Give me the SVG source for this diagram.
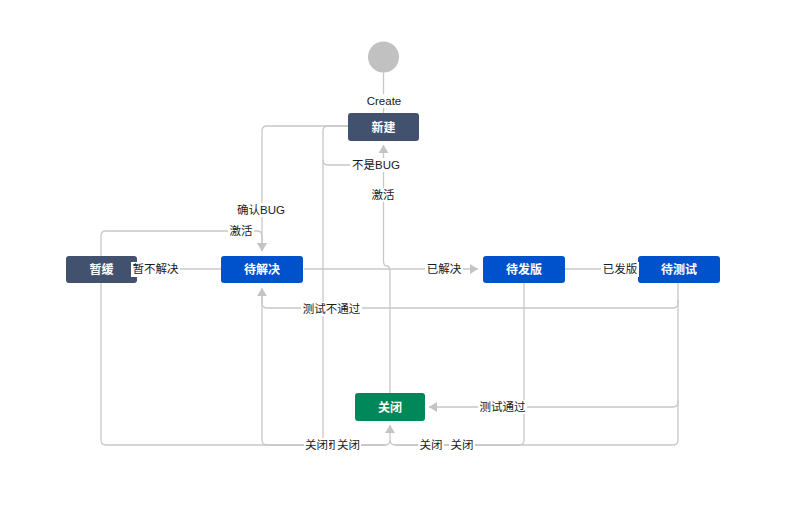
<svg xmlns="http://www.w3.org/2000/svg" width="800" height="508" viewBox="0 0 800 508">
<defs>
<marker id="arr" viewBox="0 0 8 10" refX="8" refY="5" markerWidth="8" markerHeight="10" markerUnits="userSpaceOnUse" orient="auto"><path d="M0,0 L8,5 L0,10 z" fill="#c4c4c4"/></marker>
<clipPath id="frag"><rect x="329" y="436" width="7" height="18"/></clipPath>
<style>
.ln{fill:none;stroke:#c8c8c8;stroke-width:1.3}
.ar{marker-end:url(#arr)}
.nd{stroke:none}
.nt{font-family:"Liberation Sans","Noto Sans CJK SC",sans-serif;font-size:12px;font-weight:bold;fill:#ffffff;text-anchor:middle}
.lb{font-family:"Liberation Sans","Noto Sans CJK SC",sans-serif;font-size:11.5px;fill:#1a1a1a;text-anchor:middle}
.bg{fill:#ffffff}
</style>
</defs>
<rect width="800" height="508" fill="#ffffff"/>

<g id="start"><circle cx="383.5" cy="57" r="15.5" fill="#c1c1c1"/></g>

<g id="connectors">
<path class="ln" d="M383.5 72 V113"/>
<path class="ln ar" d="M348 126 H267 Q262 126 262 131 V251"/>
<path class="ln" d="M348 126 H328 Q323 126 323 131 V160 Q323 165 328 165 H360"/>
<path class="ln" d="M323 160 V440 Q323 445 328 445 H385"/>
<path class="ln ar" d="M101 256 V236 Q101 231 106 231 H257 Q262 231 262 236 V251"/>
<path class="ln" d="M137 269 H221"/>
<path class="ln ar" d="M304 269 H478"/>
<path class="ln" d="M565 269 H637"/>
<path class="ln ar" d="M678 283 V303 Q678 308 673 308 H267 Q262 308 262 303 V288"/>
<path class="ln" d="M262 295 V440 Q262 445 267 445 H385"/>
<path class="ln" d="M101 283 V440 Q101 445 106 445 H385"/>
<path class="ln ar" d="M678 300 V402 Q678 407 673 407 H429"/>
<path class="ln" d="M678 400 V440 Q678 445 673 445 H395 Q390 445 390 440"/>
<path class="ln" d="M524 283 V440 Q524 445 519 445 H395"/>
<path class="ln ar" d="M385 445 Q390 445 390 440 V425"/>
<path class="ln ar" d="M390 393 V271 Q390 266 386.5 266 Q383.5 266 383.5 261 V145"/>
</g>

<g id="node-xinjian"><rect class="nd" x="348" y="113" width="71" height="28" rx="3" fill="#42526e"/><text class="nt" x="383.5" y="131.5">新建</text></g>
<g id="node-zanhuan"><rect class="nd" x="66" y="256" width="71" height="27" rx="3" fill="#42526e"/><text class="nt" x="101.5" y="274">暂缓</text></g>
<g id="node-daijiejue"><rect class="nd" x="221" y="256" width="82" height="27" rx="3" fill="#0052cc"/><text class="nt" x="262" y="274">待解决</text></g>
<g id="node-daifaban"><rect class="nd" x="483" y="256" width="82" height="27" rx="3" fill="#0052cc"/><text class="nt" x="524" y="274">待发版</text></g>
<g id="node-daiceshi"><rect class="nd" x="638" y="256" width="82" height="27" rx="3" fill="#0052cc"/><text class="nt" x="679" y="274">待测试</text></g>
<g id="node-guanbi"><rect class="nd" x="355" y="393" width="70" height="28" rx="3" fill="#00875a"/><text class="nt" x="390" y="411.5">关闭</text></g>

<g id="labels">
<rect class="bg" x="364" y="94" width="40" height="14"/><text class="lb" x="384" y="105">Create</text>
<rect class="bg" x="235" y="203" width="52" height="14"/><text class="lb" x="261" y="214">确认BUG</text>
<rect class="bg" x="228" y="224" width="26" height="14"/><text class="lb" x="241" y="235">激活</text>
<rect class="bg" x="350" y="158" width="52" height="14"/><text class="lb" x="376" y="169">不是BUG</text>
<rect class="bg" x="370" y="188" width="26" height="14"/><text class="lb" x="383" y="199">激活</text>
<rect class="bg" x="131" y="262" width="49" height="15"/><text class="lb" x="155.5" y="273">暂不解决</text>
<rect class="bg" x="425" y="262" width="38" height="14"/><text class="lb" x="444" y="273">已解决</text>
<rect class="bg" x="601" y="262" width="38" height="15"/><text class="lb" x="620" y="273">已发版</text>
<rect class="bg" x="301" y="302" width="61" height="14"/><text class="lb" x="331.5" y="313">测试不通过</text>
<rect class="bg" x="478" y="400" width="49" height="14"/><text class="lb" x="502.5" y="411">测试通过</text>
<rect class="bg" x="304" y="438" width="57" height="14"/>
<text class="lb" x="324" y="449" clip-path="url(#frag)">关闭</text>
<text class="lb" x="316.5" y="449">关闭</text>
<text class="lb" x="348.5" y="449">关闭</text>
<rect class="bg" x="418" y="438" width="26" height="14"/><text class="lb" x="431" y="449">关闭</text>
<rect class="bg" x="449" y="438" width="26" height="14"/><text class="lb" x="462" y="449">关闭</text>
</g>
</svg>
